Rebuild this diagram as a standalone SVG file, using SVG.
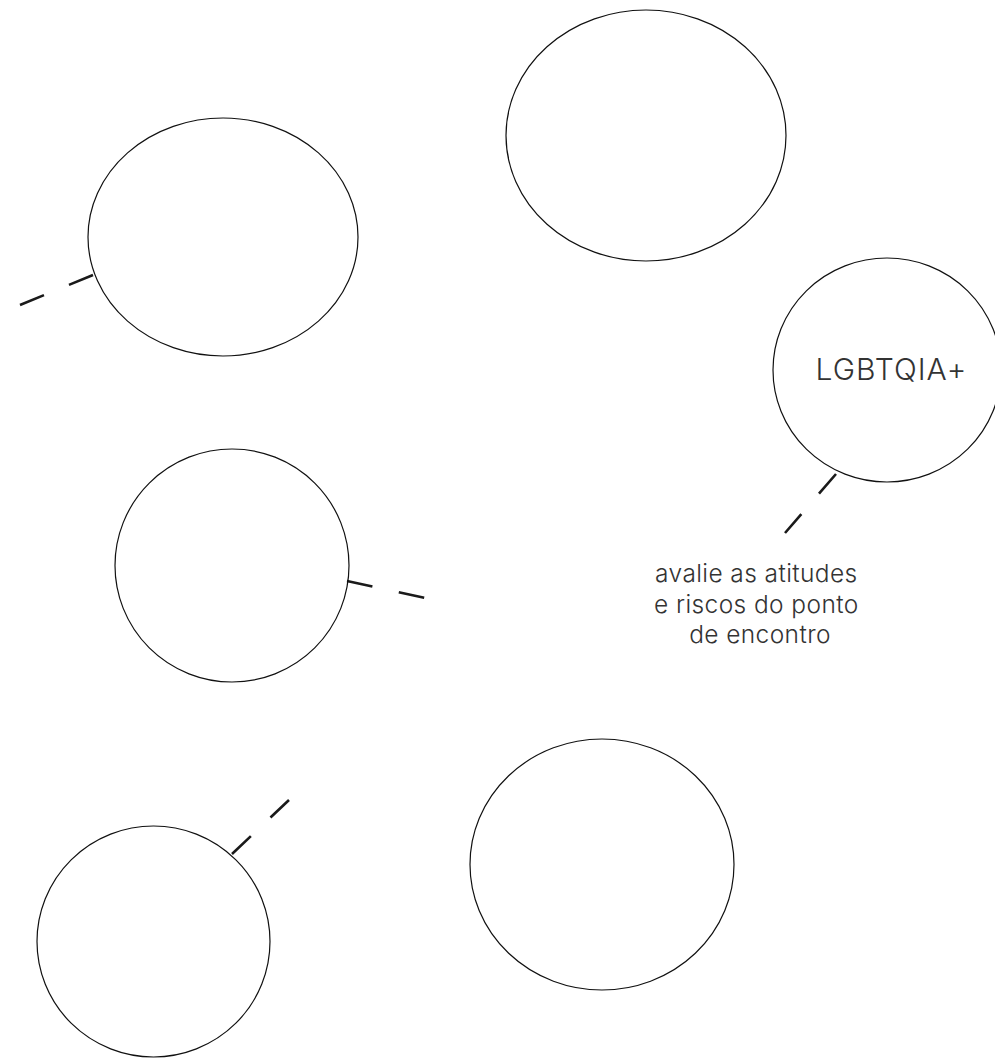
<svg xmlns="http://www.w3.org/2000/svg" width="995" height="1059" viewBox="0 0 995 1059">
<style>
.n{fill:none;stroke:#111;stroke-width:1.2}
.c{fill:none;stroke:#1a1a1a;stroke-width:2.6;stroke-dasharray:26 27}
.t{font-family:Inter,"Liberation Sans",sans-serif;font-weight:300;fill:#333}
</style>
<rect width="995" height="1059" fill="#fff"/>
<g id="connectors">
<line class="c" x1="93" y1="275" x2="20" y2="305"/>
<line class="c" x1="347" y1="581" x2="425" y2="598"/>
<line class="c" x1="836" y1="474" x2="785" y2="533"/>
<line class="c" x1="232" y1="854" x2="289" y2="800"/>
</g>
<g id="node1"><ellipse class="n" cx="223" cy="237" rx="135" ry="119"/></g>
<g id="node2"><ellipse class="n" cx="646" cy="135.5" rx="140" ry="125.5"/></g>
<g id="node3"><ellipse class="n" cx="887" cy="370" rx="114" ry="112"/>
<text class="t" x="891.5" y="380" font-size="30" letter-spacing="1" text-anchor="middle">LGBTQIA+</text></g>
<g id="node4"><ellipse class="n" cx="232" cy="565.5" rx="117" ry="116.5"/></g>
<g id="node5"><ellipse class="n" cx="153.5" cy="941.5" rx="116.5" ry="115.5"/></g>
<g id="node6"><ellipse class="n" cx="602" cy="864.5" rx="132" ry="125.5"/></g>
<g id="label">
<text class="t" font-size="24.5" letter-spacing="0.4" text-anchor="middle" fill="#444">
<tspan x="760" y="582">avalie as atitudes</tspan>
<tspan x="760" y="613">e riscos do ponto</tspan>
<tspan x="760" y="643">de encontro</tspan>
</text>
</g>
</svg>
